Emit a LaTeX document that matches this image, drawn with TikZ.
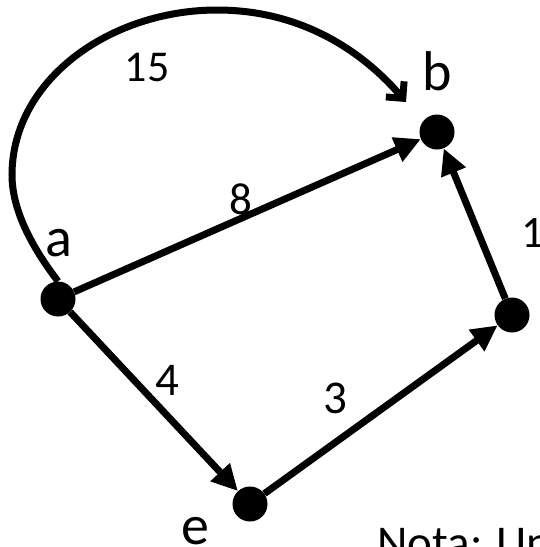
\documentclass[tikz,border=0pt]{standalone}
\usepackage{fontspec}
\setmainfont{Carlito}
\usetikzlibrary{arrows.meta}
\begin{document}
\begin{tikzpicture}[x=1pt,y=-1pt,
  vert/.style={circle,fill=black,minimum size=35pt,inner sep=0pt},
  lbl/.style={font=\fontsize{56}{64}\selectfont,inner sep=0pt},
  num/.style={font=\fontsize{45}{54}\selectfont,inner sep=0pt},
  edgeline/.style={line width=7pt,-{Triangle[length=26pt,width=25pt]}},
]
\path[use as bounding box, clip] (0,0) rectangle (539,547);
\node[vert] (a) at (58,299) {};
\node[vert] (b) at (437,132) {};
\node[vert] (c) at (512,315) {};
\node[vert] (e) at (250,504) {};
\coordinate (tip) at (406,102);
\coordinate (left) at (12,175);
\coordinate (top) at (217,10);
\draw[line width=7pt,-{Straight Barb[angle=90:17pt,sharp]}]
  (a.north) .. controls (38,255) and (12,215) .. (left)
  .. controls (12,80) and (110,10) .. (top)
  .. controls (310,10) and (370,60) .. (tip);
\draw[edgeline] (a) -- (b);
\draw[edgeline] (a) -- (e);
\draw[edgeline] (e) -- (c);
\draw[edgeline] (c) -- (b);
\node[lbl] (la) at (59,243) {a};
\node[lbl] (lb) at (437,71) {b};
\node[lbl] (le) at (195,531) {e};
\node[num,font=\fontsize{44}{52}\selectfont] (l15) at (147,67) {15};
\node[num,font=\fontsize{45}{52}\selectfont] (l8) at (241,199) {8};
\node[num,font=\fontsize{47}{56}\selectfont] (l4) at (167,380) {4};
\node[num,font=\fontsize{47}{56}\selectfont] (l3) at (335,398) {3};
\node[num,anchor=west] (l1) at (521,233) {1};
\node[num,font=\fontsize{47}{56}\selectfont,anchor=north west] (nota) at (377,528) {Nota: Un};
\end{tikzpicture}
\end{document}
